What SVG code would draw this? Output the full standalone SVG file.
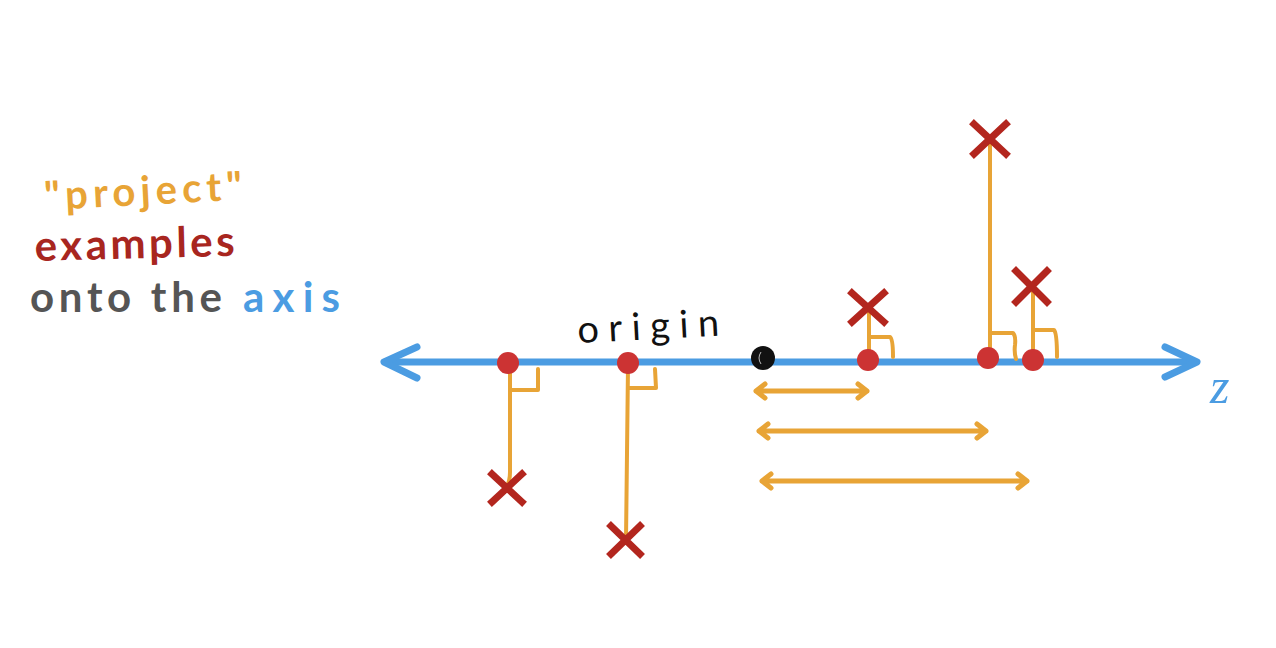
<svg xmlns="http://www.w3.org/2000/svg" width="1276" height="648" viewBox="0 0 1276 648">
<style>
.axis{stroke:#4b9ce2;stroke-width:7;fill:none;stroke-linecap:round;stroke-linejoin:round}
.proj{stroke:#e8a436;stroke-width:4;fill:none;stroke-linecap:round;stroke-linejoin:round}
.dist{stroke:#e8a436;stroke-width:5;fill:none;stroke-linecap:round;stroke-linejoin:round}
.ex{stroke:#b3261e;stroke-width:7;stroke-linecap:square;fill:none}
.pt{fill:#cc3333}
.hand{font-family:"Lato","Open Sans",sans-serif;font-weight:700}
.hand2{font-family:"Lato","Open Sans",sans-serif;font-weight:400}
</style>
<rect width="1276" height="648" fill="#ffffff"/>

<g id="labels">
  <text class="hand" x="45" y="210" font-size="40" fill="#e8a436" textLength="198" lengthAdjust="spacing" transform="rotate(-3 45 210)">"project"</text>
  <text class="hand" x="35" y="261" font-size="42" fill="#a8261f" textLength="200" lengthAdjust="spacing" transform="rotate(-1.5 35 261)">examples</text>
  <text class="hand" x="30" y="312" font-size="42" fill="#555555" textLength="192" lengthAdjust="spacing">onto the</text>
  <text class="hand" x="243" y="312" font-size="42" fill="#4b9ce2" textLength="97" lengthAdjust="spacing">axis</text>
</g>

<g id="axis-z">
  <line class="axis" x1="386" y1="362" x2="1195" y2="362"/>
  <polyline class="axis" points="417,347 384,362 417,378"/>
  <polyline class="axis" points="1165,347 1197,362 1165,377"/>
  <text x="1210" y="403" font-family="Liberation Serif" font-style="italic" font-size="50" fill="#4b9ce2">z</text>
</g>

<g id="connectors">
  <path class="proj" d="M510,366 L510,472 Q510,482 506,488"/>
  <path class="proj" d="M511,390 L538,390 L538,369"/>
  <path class="proj" d="M628,366 L626,540"/>
  <path class="proj" d="M629,388 L656,388 L655,369"/>
  <path class="proj" d="M869,358 L869,308"/>
  <path class="proj" d="M869,337 L890,337 Q893,339 893,357"/>
  <path class="proj" d="M990,356 L990,140"/>
  <path class="proj" d="M990,333 L1013,333 Q1016,336 1015,345 Q1014,352 1016,359"/>
  <path class="proj" d="M1033,357 L1033,287"/>
  <path class="proj" d="M1033,330 L1054,330 Q1057,333 1057,357"/>
  <path class="dist" d="M756,391 L867,391 M765,384 L756,391 L765,398 M858,384 L867,391 L858,398"/>
  <path class="dist" d="M759,431 L986,431 M768,424 L759,431 L768,438 M977,424 L986,431 L977,438"/>
  <path class="dist" d="M762,481 L1027,481 M771,474 L762,481 L771,488 M1018,474 L1027,481 L1018,488"/>
</g>

<g id="origin">
  <circle cx="763" cy="358" r="12" fill="#111111"/>
  <path d="M761,352 Q757,358 761,364" stroke="#bbbbbb" stroke-width="1" fill="none"/>
  <text class="hand2" x="578" y="343" font-size="38" fill="#111111" textLength="142" lengthAdjust="spacing" transform="rotate(-3 578 343)">origin</text>
</g>

<g id="example-1"><circle class="pt" cx="508" cy="363" r="11"/><path class="ex" d="M492,474 L522,502 M522,474 L492,502"/></g>
<g id="example-2"><circle class="pt" cx="628" cy="363" r="11"/><path class="ex" d="M611,526 L640,554 M640,526 L611,554"/></g>
<g id="example-3"><circle class="pt" cx="868" cy="360" r="11"/><path class="ex" d="M852,293 L884,322 M884,293 L852,322"/></g>
<g id="example-4"><circle class="pt" cx="988" cy="358" r="11"/><path class="ex" d="M974,124 L1006,154 M1006,124 L974,154"/></g>
<g id="example-5"><circle class="pt" cx="1033" cy="360" r="11"/><path class="ex" d="M1016,271 L1047,302 M1047,271 L1016,302"/></g>
</svg>
